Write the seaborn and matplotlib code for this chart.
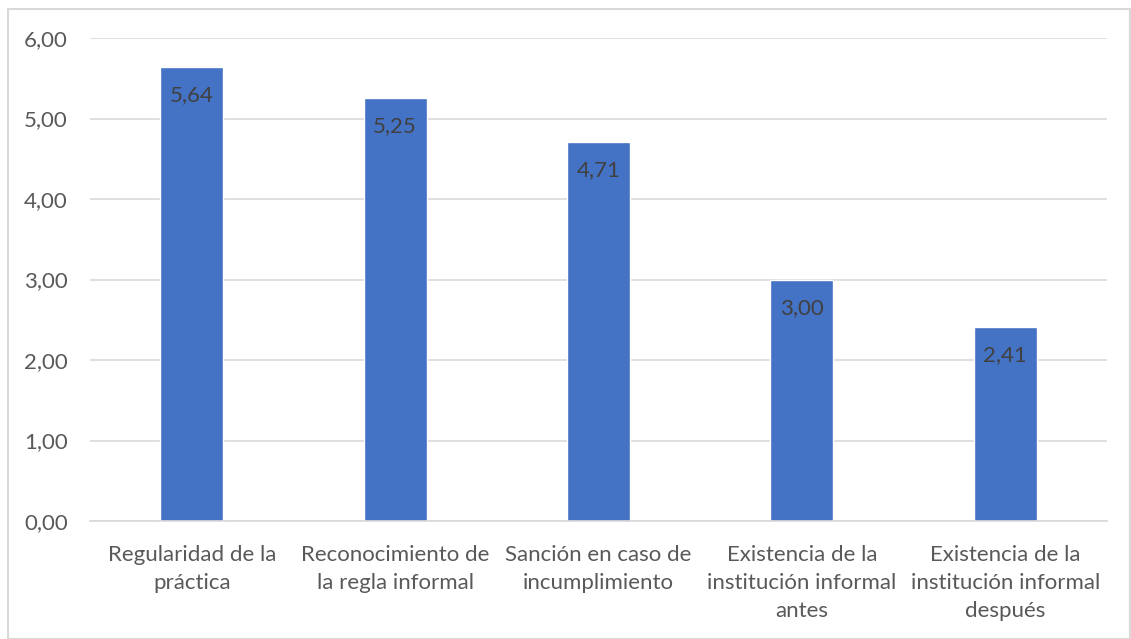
import matplotlib
matplotlib.use("Agg")
import matplotlib.pyplot as plt
import seaborn as sns
import pandas as pd
from matplotlib.ticker import FuncFormatter
from matplotlib.patches import Rectangle

categories = [
    "Regularidad de la\npráctica",
    "Reconocimiento de\nla regla informal",
    "Sanción en caso de\nincumplimiento",
    "Existencia de la\ninstitución informal\nantes",
    "Existencia de la\ninstitución informal\ndespués",
]
values = [5.64, 5.25, 4.71, 3.00, 2.41]
yticks = [0, 1, 2, 3, 4, 5, 6]

sns.set_theme(style="white")
plt.rcParams["font.family"] = ["Lato", "DejaVu Sans"]

df = pd.DataFrame({"cat": categories, "val": values})

fig = plt.figure(figsize=(11.31, 6.39), dpi=100)
ax = fig.add_axes([90 / 1131, 1 - 521 / 639, (1107 - 90) / 1131, (521 - 38) / 639])

sns.barplot(data=df, x="cat", y="val", color="#4472C4", saturation=1, width=0.31, ax=ax)

ax.set_ylim(0, 6)
ax.set_yticks(yticks)
ax.yaxis.set_major_formatter(FuncFormatter(lambda v, p: f"{v:.2f}".replace(".", ",")))
ax.grid(axis="y", color="#D9D9D9", linewidth=1.2)
ax.set_axisbelow(True)
for s in ["top", "right", "left"]:
    ax.spines[s].set_visible(False)
ax.spines["bottom"].set_color("#D9D9D9")
ax.spines["bottom"].set_linewidth(1.2)
ax.set_xlabel("")
ax.set_ylabel("")
ax.tick_params(axis="y", length=0, pad=16, labelsize=16, labelcolor="#595959")
ax.tick_params(axis="x", length=0, pad=17, labelsize=16, labelcolor="#595959")
for t in ax.get_xticklabels():
    t.set_linespacing(1.5)

ax.bar_label(ax.containers[0], labels=[f"{v:.2f}".replace(".", ",") for v in values],
             padding=-27.5, fontsize=16, color="#404040")

fig.patches.append(Rectangle((8 / 1131, 0), 1 - 8 / 1131 - 0.0005, 1 - 9 / 639,
                             transform=fig.transFigure, fill=False,
                             edgecolor="#D9D9D9", linewidth=1.5))

fig.savefig("out.png", dpi=100)
